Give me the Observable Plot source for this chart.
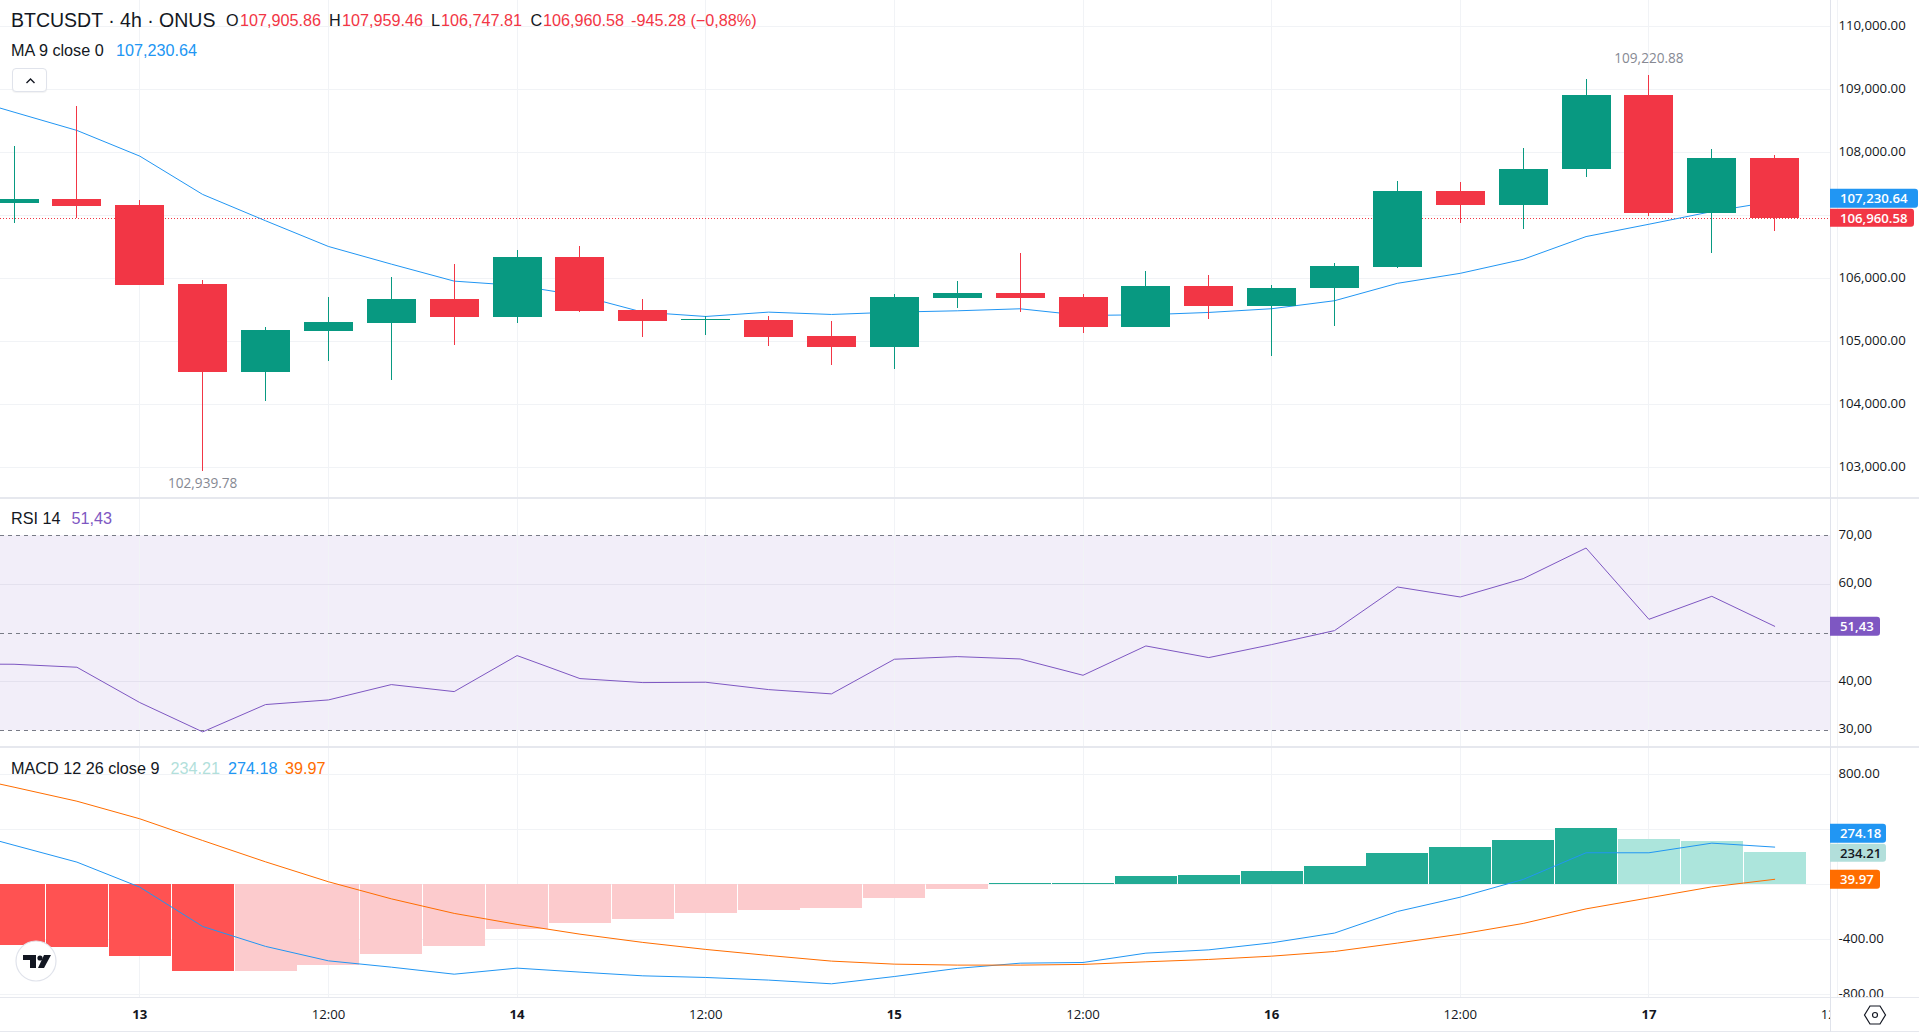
<!DOCTYPE html>
<html><head><meta charset="utf-8">
<script src="https://cdn.jsdelivr.net/npm/d3@7"></script>
<script src="https://cdn.jsdelivr.net/npm/@observablehq/plot@0.6"></script>
<style>
html,body{margin:0;padding:0;background:#fff;overflow:hidden}
#chart{position:relative;width:1919px;height:1035px;overflow:hidden;font-family:"Liberation Sans",Arial,sans-serif;color:#131722}
#chart>svg,#chart>div{position:absolute}
.sep{left:0;width:1919px;background:#e6e8ee}
.leg{white-space:nowrap;font-size:16.2px;line-height:20px;transform:translateY(-50%)}
.flag{left:1830px;height:18.5px;line-height:18.5px;border-radius:0 3px 3px 0;padding-left:10px;box-sizing:border-box;font:600 13.2px/18.5px "Open Sans",sans-serif;white-space:nowrap;transform:translateY(-50%)}
</style></head><body><div id="chart"></div>
<script>
const HOUR = 3600e3;
const START = Date.UTC(2025, 5, 12, 16);
const opens  = [107196,107259,107164,105910,104519,105169,105296,105672,105392,106339,105497,105331,105339,105085,104915,105693,105767,105704,105233,105878,105561,105845,106187,107390,107157,107730,108917,107030,107905.86];
const closes = [107259,107148,105899,104519,105180,105307,105672,105392,106339,105487,105328,105347,105074,104915,105704,105767,105693,105233,105878,105561,105847,106198,107390,107157,107740,108917,107030,107915,106960.58];
const highs  = [108100,108735,107238,105968,105227,105704,106021,106228,106450,106513,105672,105402,105402,105323,105751,105958,106402,105751,106116,106053,105894,106246,107550,107534,108074,109171,109220.88,108058,107959.46];
const lows   = [106884,106963,105899,102939.78,104058,104693,104391,104942,105296,105466,105074,105106,104931,104630,104566,105534,105471,105138,105233,105360,104772,105249,106156,106871,106776,107603,106982,106394,106747.81];
// the line series start one bar before the first candle (off the left edge)
const ma     = [108938,108645,108355,107947,107339,106921,106513,106233,105963,105894,105735,105470,105402,105471,105434,105471,105492,105524,105418,105429,105466,105525,105652,105928,106087,106309,106670,106866,107067,107230.64];
const rsi    = [43.7,43.64,43.03,35.78,29.76,35.37,36.32,39.47,38.03,45.42,40.70,39.88,39.95,38.44,37.56,44.67,45.21,44.73,41.38,47.40,45.01,47.68,50.55,59.50,57.45,61.21,67.50,52.87,57.59,51.43];
const macd   = [412,288,165,-17,-303,-448,-553,-599,-650,-606,-635,-662,-674,-693,-720,-667,-608,-570,-565,-497,-473,-422,-351,-194,-90,39,233,233,303,274.18];
const signal = [810,710,608,480,322,167,22,-102,-208,-288,-359,-419,-470,-514,-555,-577,-584,-584,-579,-560,-543,-519,-485,-424,-359,-281,-175,-95,-15,39.97];
const hist   = [-441,-456,-521,-628,-627,-587,-504,-446,-325,-279,-250,-206,-184,-170,-97,-32,6,7,63,70,99,136,230,274,325,412,332,318,234.21];
const priceTicks = [103000,104000,105000,106000,107000,108000,109000,110000];
const priceLabels = [103000,104000,105000,106000,108000,109000,110000];
const rsiGrid = [40,60];
const rsiLabels = [30,40,60,70];
const rsiDashed = [30,50,70];
const macdTicks = [-800,-400,0,400,800];
const macdLabels = [-800,-400,800];
const dayTicks = [13,14,15,16,17].map(d => new Date(Date.UTC(2025,5,d)));
const noonTicks = [13,14,15,16,17].map(d => new Date(Date.UTC(2025,5,d,12)));
const lastClose = 106960.58, lastMa = 107230.64, lastRsi = 51.43, lastHist = 234.21, lastMacd = 274.18, lastSignal = 39.97;
const lowBar = 3, lowValue = 102939.78, highBar = 26, highValue = 109220.88;

const GREEN="#089981", RED="#F23645", GRID="#f1f3f6", BLUE="#2196F3", ORANGE="#FF6D00", PURPLE="#7E57C2";
const time = i => new Date(START + i*4*HOUR);
const candles = opens.map((o,i)=>({t:time(i),o,c:closes[i],h:highs[i],l:lows[i],col:closes[i]>=o?GREEN:RED}));
const lineRows = ma.map((m,k)=>({t:time(k-1),ma:m,rsi:rsi[k],macd:macd[k],signal:signal[k]}));
const histRows = hist.map((v,i)=>{
  const up = i===0 || v>hist[i-1];
  return {t:time(i),v,col: v>=0 ? (up?"#22AB94":"#ACE5DC") : (up&&i>0?"#FCCBCD":"#FF5252")};
});
const xDomain=[new Date(Date.UTC(2025,5,13)-8.861*HOUR), new Date(Date.UTC(2025,5,13)+107.55*HOUR)];
const allTicks=[...dayTicks,...noonTicks];
const base=(height,yDomain)=>({width:1919,height,marginLeft:0,marginRight:89,marginTop:0,marginBottom:0,
  x:{type:"utc",domain:xDomain,axis:null},y:{domain:yDomain},style:{background:"transparent"}});
const yAxis=(ticks,fmt)=>Plot.axisY(ticks,{anchor:"right",tickSize:0,tickPadding:8,tickFormat:fmt,label:null,dy:-1.5,
  fontSize:13.2,fontFamily:"Open Sans",fill:"#131722"});
const crisp={shapeRendering:"crispEdges"};
const vGrid=Plot.ruleX(allTicks,{stroke:GRID,strokeWidth:1,...crisp});

const f2=d=>d3.format(",.2f")(d).replace("−","-");
const fComma=d=>d3.format(".2f")(d).replace(".",",");

const pricePlot=Plot.plot({...base(497,[102528.5,110417.5]),marks:[
  vGrid,
  Plot.ruleY(priceTicks,{stroke:GRID,strokeWidth:1,...crisp}),
  yAxis(priceLabels,f2),
  Plot.ruleY([lastClose],{stroke:RED,strokeWidth:1,strokeDasharray:"1,2",...crisp}),
  Plot.line(lineRows,{x:"t",y:"ma",stroke:BLUE,strokeWidth:1,clip:true}),
  Plot.ruleX(candles,{x:"t",y1:"l",y2:"h",stroke:"col",strokeWidth:1,...crisp}),
  Plot.ruleX(candles,{x:"t",y1:"o",y2:"c",stroke:"col",strokeWidth:49,clip:true,...crisp}),
  Plot.text([lowValue],{x:()=>time(lowBar),y:d=>d,dy:12,text:f2,fill:"#868993",fontSize:13.6,fontFamily:"Open Sans"}),
  Plot.text([highValue],{x:()=>time(highBar),y:d=>d,dy:-17,text:f2,fill:"#868993",fontSize:13.6,fontFamily:"Open Sans"})
]});

const rsiPlot=Plot.plot({...base(247,[26.76,77.46]),marks:[
  Plot.rect([0],{y1:()=>rsiDashed[0],y2:()=>rsiDashed[2],fill:PURPLE,fillOpacity:0.1}),
  vGrid,
  Plot.ruleY(rsiGrid,{stroke:"#e4e1ee",strokeWidth:1,...crisp}),
  Plot.ruleY(rsiDashed,{stroke:"#787B86",strokeWidth:1,strokeDasharray:"4,4",...crisp}),
  yAxis(rsiLabels,fComma),
  Plot.line(lineRows,{x:"t",y:"rsi",stroke:PURPLE,strokeWidth:1,clip:true})
]});

const macdPlot=Plot.plot({...base(249,[-819.6,991.3]),marks:[
  vGrid,
  Plot.ruleY(macdTicks,{stroke:GRID,strokeWidth:1,...crisp}),
  yAxis(macdLabels,f2),
  Plot.ruleX(histRows,{x:"t",y1:0,y2:"v",stroke:"col",strokeWidth:62,clip:true,...crisp}),
  Plot.line(lineRows,{x:"t",y:"macd",stroke:BLUE,strokeWidth:1,clip:true}),
  Plot.line(lineRows,{x:"t",y:"signal",stroke:ORANGE,strokeWidth:1,clip:true})
]});

const timePlot=Plot.plot({width:1830,height:33,marginLeft:0,marginRight:0,marginTop:0,marginBottom:0,
  x:{type:"utc",domain:xDomain,axis:null},y:{axis:null},style:{background:"transparent"},marks:[
  Plot.text(dayTicks,{x:d=>d,text:d=>String(d.getUTCDate()),frameAnchor:"middle",fontWeight:"bold",fontSize:13.2,fontFamily:"Open Sans",fill:"#131722"}),
  Plot.text(noonTicks,{x:d=>d,text:()=>"12:00",frameAnchor:"middle",fontSize:13.2,fontFamily:"Open Sans",fill:"#131722"})
]});

const root=document.getElementById("chart");
function place(svg,top){svg.style.left="0";svg.style.top=top+"px";svg.style.maxWidth="none";root.appendChild(svg);return svg;}
place(pricePlot,0);place(rsiPlot,499);place(macdPlot,748);place(timePlot,998);

function sep(top,h){const d=document.createElement("div");d.className="sep";d.style.top=top+"px";d.style.height=h+"px";root.appendChild(d);}
sep(497,2);sep(746,2);sep(997,1);sep(1031,1);
const vb=document.createElement("div");
vb.style.cssText="left:1830px;top:0;width:1px;height:1032px;background:#e0e3eb";root.appendChild(vb);

function leg(x,y,text,color,size){const d=document.createElement("div");d.className="leg";d.textContent=text;
  d.style.left=x+"px";d.style.top=y+"px";d.style.color=color||"#131722";if(size)d.style.fontSize=size+"px";root.appendChild(d);}
leg(11,20,"BTCUSDT · 4h · ONUS","#131722",19.5);
leg(226,20,"O");leg(240,20,f2(opens.at(-1)),RED);
leg(329,20,"H");leg(342,20,f2(highs.at(-1)),RED);
leg(431,20,"L");leg(441,20,f2(lows.at(-1)),RED);
leg(530.5,20,"C");leg(543,20,f2(closes.at(-1)),RED);
leg(631,20,"-945.28 (−0,88%)",RED);
leg(11,50,"MA 9 close 0");leg(116,50,f2(lastMa),"#2196F3");
leg(11,517.5,"RSI 14");leg(71.5,517.5,fComma(lastRsi),PURPLE);
leg(11,767.5,"MACD 12 26 close 9");leg(170.5,767.5,f2(lastHist),"#B2DFDB");leg(228,767.5,f2(lastMacd),BLUE);leg(285,767.5,f2(lastSignal),ORANGE);

function flag(plot,top,value,shift,text,bg,fg,w){const d=document.createElement("div");d.className="flag";d.textContent=text;
  d.style.top=(top+plot.scale("y").apply(value)+shift)+"px";d.style.width=w+"px";d.style.background=bg;d.style.color=fg;root.appendChild(d);}
flag(pricePlot,0,lastMa,-2.5,f2(lastMa),BLUE,"#fff",87.5);
flag(pricePlot,0,lastClose,0,f2(lastClose),RED,"#fff",83.7);
flag(rsiPlot,499,lastRsi,0.5,fComma(lastRsi),PURPLE,"#fff",50);
flag(macdPlot,748,lastMacd,-13.3,f2(lastMacd),BLUE,"#fff",55.7);
flag(macdPlot,748,lastHist,0.5,f2(lastHist),"#B2DFDB","#131722",55.7);
flag(macdPlot,748,lastSignal,0.5,f2(lastSignal),ORANGE,"#fff",50);

function overlay(html,css){const d=document.createElement("div");d.style.cssText=css;d.innerHTML=html;root.appendChild(d);}
overlay('<svg width="35" height="24" style="display:block"><path d="M13.5 14 L17.5 10 L21.5 14" fill="none" stroke="#131722" stroke-width="1.4"/></svg>',
  "left:11.5px;top:68px;width:35px;height:24px;box-sizing:border-box;border:1px solid #e0e3eb;border-radius:4px;background:#fff;box-shadow:0 1px 1px rgba(0,0,0,.05)");
overlay('<svg width="42" height="42" style="display:block"><circle cx="21" cy="21" r="20" fill="#fff" stroke="#e0e3eb" stroke-width="1.2"/><path d="M8 15 H21 V28 H15 V20 H8 Z" fill="#131722"/><circle cx="25" cy="18" r="2.6" fill="#131722"/><path d="M29 15 H36 L29 28 H23 Z" fill="#131722"/></svg>',
  "left:14.7px;top:939.7px;width:42px;height:42px");
overlay('<svg width="24" height="22" style="display:block"><path d="M1.5 11 L7 2 H17 L22.5 11 L17 20 H7 Z" fill="none" stroke="#131722" stroke-width="1.2"/><circle cx="12" cy="11" r="2.5" fill="none" stroke="#131722" stroke-width="1.2"/></svg>',
  "left:1863px;top:1004px;width:24px;height:22px");
</script></body></html>
